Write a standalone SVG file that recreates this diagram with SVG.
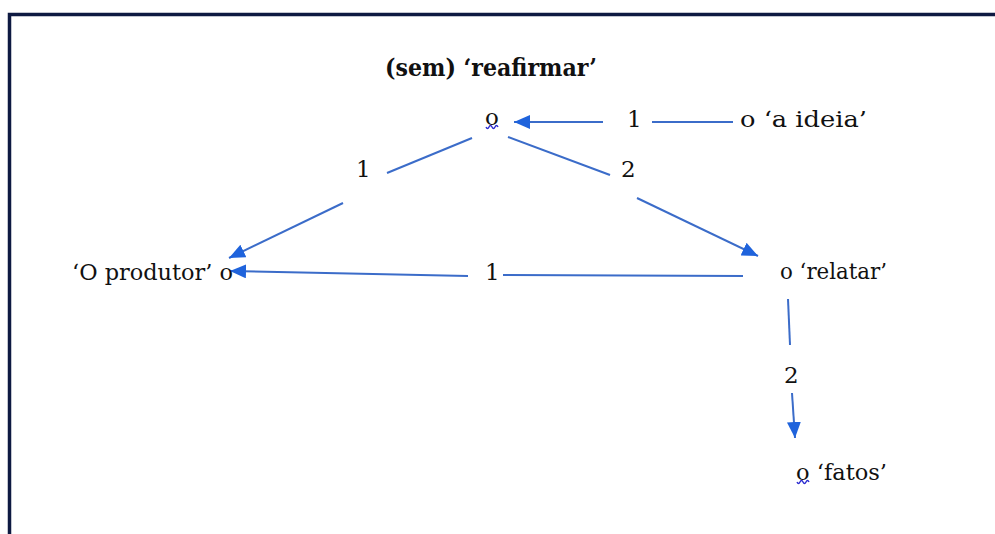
<svg xmlns="http://www.w3.org/2000/svg" width="995" height="534" viewBox="0 0 995 534">
<style>
text{font-family:'DejaVu Serif','Liberation Serif',serif;font-size:23px;fill:#111}
.b{font-weight:bold;font-size:24px}
.e{stroke:#3b6cc9;stroke-width:2;fill:none}
.sq{stroke:#2a2ad0;stroke-width:1.4;fill:none}
</style>
<defs>
<marker id="ah" markerUnits="userSpaceOnUse" markerWidth="18" markerHeight="14" refX="16" refY="7" orient="auto">
<path d="M0,0 L16,7 L0,14 Z" fill="#1f63dc"/>
</marker>
</defs>
<rect width="995" height="534" fill="#fff"/>
<path d="M9.5,534 V14.5 H995" stroke="#0e1a42" stroke-width="3.5" fill="none"/>
<text class="b" x="385" y="76" textLength="212" lengthAdjust="spacingAndGlyphs">(sem) ‘reafirmar’</text>
<g id="connectors">
<line class="e" x1="733" y1="122" x2="652" y2="122"/>
<line class="e" x1="603" y1="122" x2="514" y2="122" marker-end="url(#ah)"/>
<text x="627" y="127">1</text>
<line class="e" x1="472" y1="138" x2="387" y2="173"/>
<line class="e" x1="343" y1="203" x2="229" y2="258" marker-end="url(#ah)"/>
<text x="356" y="177">1</text>
<line class="e" x1="508" y1="137" x2="610" y2="175"/>
<line class="e" x1="637" y1="198" x2="758" y2="256" marker-end="url(#ah)"/>
<text x="621" y="177">2</text>
<line class="e" x1="743" y1="276" x2="503" y2="275"/>
<line class="e" x1="468" y1="276" x2="230" y2="271" marker-end="url(#ah)"/>
<text x="485" y="280">1</text>
<line class="e" x1="788" y1="299" x2="790" y2="345"/>
<line class="e" x1="792" y1="393" x2="795" y2="438" marker-end="url(#ah)"/>
<text x="784" y="383">2</text>
</g>
<g id="node-reafirmar">
<text x="485" y="125">o</text>
<path class="sq" d="M486,127 q1.5,3 3,0 t3,0 t3,0 t3,0"/>
</g>
<g id="node-ideia">
<text x="740" y="127" textLength="127" lengthAdjust="spacingAndGlyphs">o ‘a ideia’</text>
</g>
<g id="node-produtor">
<text x="72" y="280" textLength="161" lengthAdjust="spacingAndGlyphs">‘O produtor’ o</text>
</g>
<g id="node-relatar">
<text x="780" y="279" textLength="107" lengthAdjust="spacingAndGlyphs">o ‘relatar’</text>
</g>
<g id="node-fatos">
<text x="796" y="480" textLength="91" lengthAdjust="spacingAndGlyphs">o ‘fatos’</text>
<path class="sq" d="M797,482 q1.5,3 3,0 t3,0 t3,0 t3,0"/>
</g>
</svg>
